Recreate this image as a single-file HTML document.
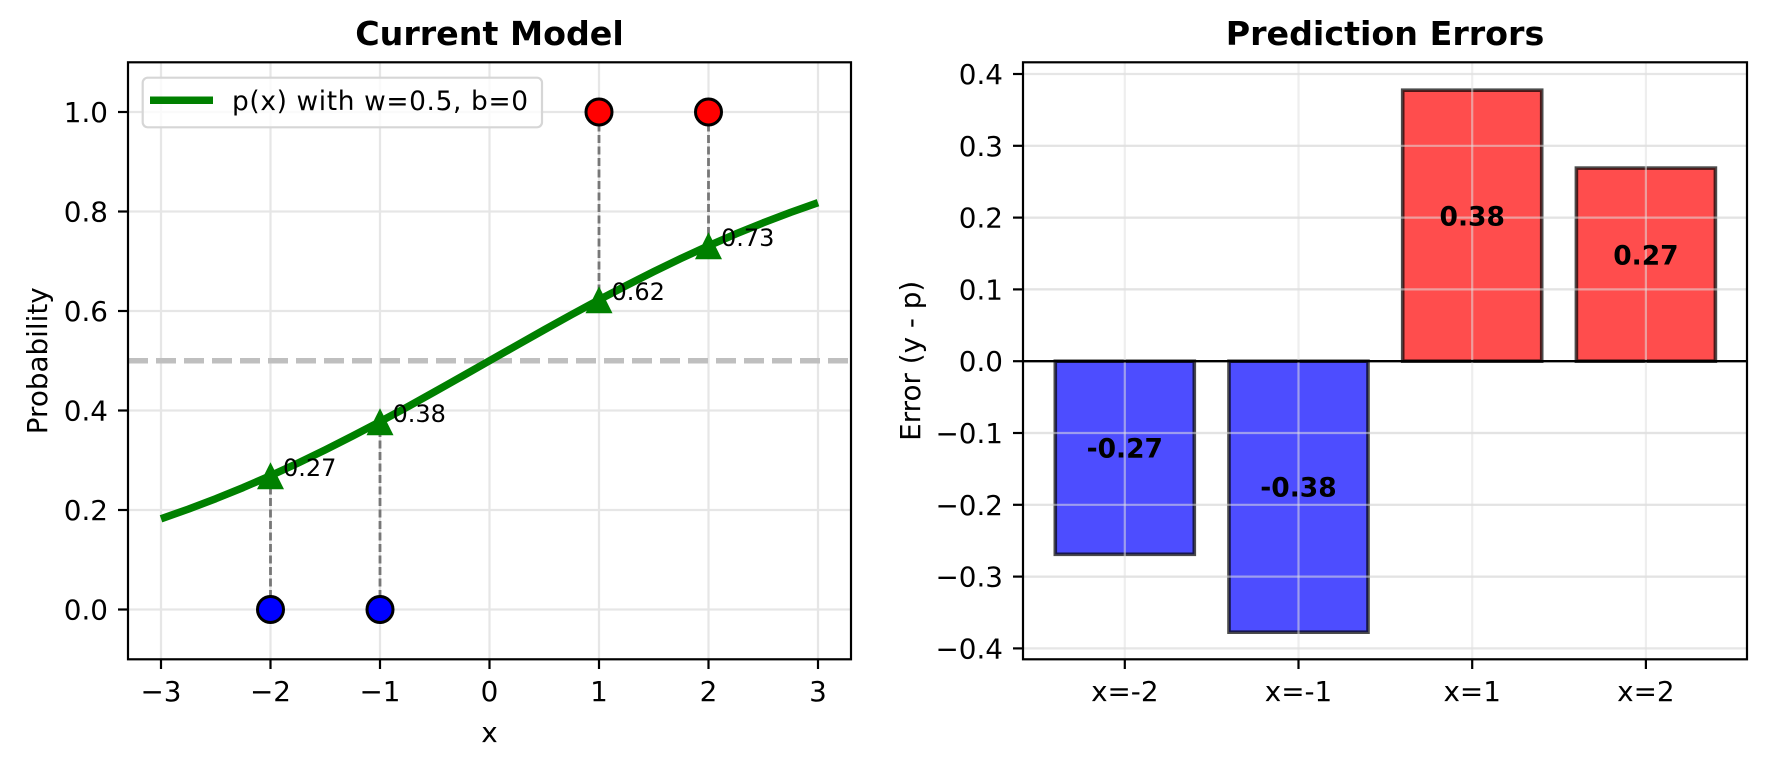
<!DOCTYPE html>
<html><head><meta charset="utf-8"><style>
html,body{margin:0;padding:0;background:#fff;}
svg{display:block;font-family:"DejaVu Sans","Liberation Sans",sans-serif;}
</style></head><body>
<svg width="1766" height="768" viewBox="0 0 1766 768" xmlns="http://www.w3.org/2000/svg">
<rect width="1766" height="768" fill="#fff"/>
<!-- LEFT AXES -->
<g stroke="#e6e6e6" stroke-width="2.2">
<line x1="161" y1="62.3" x2="161" y2="659.3"/><line x1="270.5" y1="62.3" x2="270.5" y2="659.3"/>
<line x1="380" y1="62.3" x2="380" y2="659.3"/><line x1="489.5" y1="62.3" x2="489.5" y2="659.3"/>
<line x1="599" y1="62.3" x2="599" y2="659.3"/><line x1="708.5" y1="62.3" x2="708.5" y2="659.3"/>
<line x1="818" y1="62.3" x2="818" y2="659.3"/>
<line x1="128" y1="609.5" x2="851" y2="609.5"/><line x1="128" y1="510" x2="851" y2="510"/>
<line x1="128" y1="410.5" x2="851" y2="410.5"/><line x1="128" y1="311" x2="851" y2="311"/>
<line x1="128" y1="211.5" x2="851" y2="211.5"/><line x1="128" y1="112" x2="851" y2="112"/>
</g>
<line x1="128" y1="360.75" x2="851" y2="360.75" stroke="#bfbfbf" stroke-width="5.5" stroke-dasharray="20,8"/>
<g stroke="#777" stroke-width="2.8" stroke-dasharray="8,3.5">
<line x1="270.5" y1="609.5" x2="270.5" y2="475.7"/><line x1="380" y1="609.5" x2="380" y2="421.7"/>
<line x1="599" y1="112" x2="599" y2="299.8"/><line x1="708.5" y1="112" x2="708.5" y2="245.8"/>
</g>
<polyline fill="none" stroke="#008000" stroke-width="7.5" stroke-linejoin="round" points="161,518.8 188.4,509.1 215.75,498.7 243.1,487.6 270.5,475.7 297.9,463.1 325.25,449.9 352.6,436 380,421.7 407.4,406.9 434.75,391.7 462.1,376.3 489.5,360.75 516.9,345.2 544.25,329.8 571.6,314.6 599,299.8 626.4,285.5 653.75,271.6 681.1,258.4 708.5,245.8 735.9,233.9 763.25,222.8 790.6,212.4 818,202.7"/>
<g fill="#008000">
<polygon points="270.5,462.2 257,489.2 284,489.2"/><polygon points="380,408.2 366.5,435.2 393.5,435.2"/>
<polygon points="599,286.3 585.5,313.3 612.5,313.3"/><polygon points="708.5,232.3 695,259.3 722,259.3"/>
</g>
<g font-size="24" fill="#000">
<text x="283" y="476">0.27</text><text x="392.5" y="422">0.38</text>
<text x="611.5" y="300">0.62</text><text x="721" y="246">0.73</text>
</g>
<g stroke="#000" stroke-width="3">
<circle cx="270.5" cy="609.5" r="13" fill="#0000ff"/><circle cx="380" cy="609.5" r="13" fill="#0000ff"/>
<circle cx="599" cy="112" r="13" fill="#ff0000"/><circle cx="708.5" cy="112" r="13" fill="#ff0000"/>
</g>
<rect x="142.7" y="77.7" width="399.3" height="49.6" rx="5" fill="#fff" fill-opacity="0.8" stroke="#d6d6d6" stroke-width="2.2"/>
<line x1="150" y1="100.3" x2="213" y2="100.3" stroke="#008000" stroke-width="7.5"/>
<text x="232" y="110" font-size="26.4" textLength="296">p(x) with w=0.5, b=0</text>
<rect x="128" y="62.3" width="723" height="597" fill="none" stroke="#000" stroke-width="2.2"/>
<g stroke="#000" stroke-width="2.2">
<line x1="161" y1="659.3" x2="161" y2="669"/><line x1="270.5" y1="659.3" x2="270.5" y2="669"/>
<line x1="380" y1="659.3" x2="380" y2="669"/><line x1="489.5" y1="659.3" x2="489.5" y2="669"/>
<line x1="599" y1="659.3" x2="599" y2="669"/><line x1="708.5" y1="659.3" x2="708.5" y2="669"/>
<line x1="818" y1="659.3" x2="818" y2="669"/>
<line x1="118" y1="609.5" x2="128" y2="609.5"/><line x1="118" y1="510" x2="128" y2="510"/>
<line x1="118" y1="410.5" x2="128" y2="410.5"/><line x1="118" y1="311" x2="128" y2="311"/>
<line x1="118" y1="211.5" x2="128" y2="211.5"/><line x1="118" y1="112" x2="128" y2="112"/>
</g>
<g font-size="27.8" text-anchor="middle">
<text x="161" y="701">−3</text><text x="270.5" y="701">−2</text><text x="380" y="701">−1</text>
<text x="489.5" y="701">0</text><text x="599" y="701">1</text><text x="708.5" y="701">2</text><text x="818" y="701">3</text>
<text x="489.5" y="742">x</text>
</g>
<g font-size="27.8" text-anchor="end">
<text x="108" y="619.5">0.0</text><text x="108" y="520">0.2</text><text x="108" y="420.5">0.4</text>
<text x="108" y="321">0.6</text><text x="108" y="221.5">0.8</text><text x="108" y="122">1.0</text>
</g>
<text transform="translate(47,360.8) rotate(-90)" font-size="27.8" text-anchor="middle">Probability</text>
<text x="489.5" y="45" font-size="33.3" font-weight="bold" text-anchor="middle">Current Model</text>

<!-- RIGHT AXES -->
<g stroke="#e6e6e6" stroke-width="2.2">
<line x1="1023" y1="74" x2="1747" y2="74"/><line x1="1023" y1="145.8" x2="1747" y2="145.8"/>
<line x1="1023" y1="217.6" x2="1747" y2="217.6"/><line x1="1023" y1="289.4" x2="1747" y2="289.4"/>
<line x1="1023" y1="433" x2="1747" y2="433"/><line x1="1023" y1="504.8" x2="1747" y2="504.8"/>
<line x1="1023" y1="576.6" x2="1747" y2="576.6"/><line x1="1023" y1="648.4" x2="1747" y2="648.4"/>
</g>
<g stroke="#000" stroke-opacity="0.7" stroke-width="3.6">
<rect x="1055.3" y="361.2" width="139" height="193.1" fill="#4d4dff"/>
<rect x="1229" y="361.2" width="139" height="271" fill="#4d4dff"/>
<rect x="1402.7" y="90.2" width="139" height="271" fill="#ff4d4d"/>
<rect x="1576.4" y="168.1" width="139" height="193.1" fill="#ff4d4d"/>
</g>
<g stroke="#e0e0e0" stroke-opacity="0.55" stroke-width="2.2">
<line x1="1124.8" y1="62.3" x2="1124.8" y2="659.3"/><line x1="1298.5" y1="62.3" x2="1298.5" y2="659.3"/>
<line x1="1472.2" y1="62.3" x2="1472.2" y2="659.3"/><line x1="1645.9" y1="62.3" x2="1645.9" y2="659.3"/>
<line x1="1023" y1="433" x2="1747" y2="433"/><line x1="1023" y1="504.8" x2="1747" y2="504.8"/>
<line x1="1023" y1="576.6" x2="1747" y2="576.6"/><line x1="1023" y1="289.4" x2="1747" y2="289.4"/>
<line x1="1023" y1="217.6" x2="1747" y2="217.6"/><line x1="1023" y1="145.8" x2="1747" y2="145.8"/>
</g>
<line x1="1023" y1="361.2" x2="1747" y2="361.2" stroke="#000" stroke-width="2.4"/>
<g font-size="26.5" font-weight="bold" text-anchor="middle">
<text x="1124.8" y="457.7">-0.27</text><text x="1298.5" y="496.7">-0.38</text>
<text x="1472.2" y="225.7">0.38</text><text x="1645.9" y="264.7">0.27</text>
</g>
<rect x="1023" y="62.3" width="724" height="597" fill="none" stroke="#000" stroke-width="2.2"/>
<g stroke="#000" stroke-width="2.2">
<line x1="1124.8" y1="659.3" x2="1124.8" y2="669"/><line x1="1298.5" y1="659.3" x2="1298.5" y2="669"/>
<line x1="1472.2" y1="659.3" x2="1472.2" y2="669"/><line x1="1645.9" y1="659.3" x2="1645.9" y2="669"/>
<line x1="1013" y1="74" x2="1023" y2="74"/><line x1="1013" y1="145.8" x2="1023" y2="145.8"/>
<line x1="1013" y1="217.6" x2="1023" y2="217.6"/><line x1="1013" y1="289.4" x2="1023" y2="289.4"/>
<line x1="1013" y1="361.2" x2="1023" y2="361.2"/><line x1="1013" y1="433" x2="1023" y2="433"/>
<line x1="1013" y1="504.8" x2="1023" y2="504.8"/><line x1="1013" y1="576.6" x2="1023" y2="576.6"/>
<line x1="1013" y1="648.4" x2="1023" y2="648.4"/>
</g>
<g font-size="27.8" text-anchor="end">
<text x="1003" y="84">0.4</text><text x="1003" y="155.8">0.3</text><text x="1003" y="227.6">0.2</text>
<text x="1003" y="299.4">0.1</text><text x="1003" y="371.2">0.0</text><text x="1003" y="443">−0.1</text>
<text x="1003" y="514.8">−0.2</text><text x="1003" y="586.6">−0.3</text><text x="1003" y="658.4">−0.4</text>
</g>
<g font-size="27.8" text-anchor="middle">
<text x="1124.8" y="701">x=-2</text><text x="1298.5" y="701">x=-1</text>
<text x="1472.2" y="701">x=1</text><text x="1645.9" y="701">x=2</text>
</g>
<text transform="translate(920,360.8) rotate(-90)" font-size="27.8" text-anchor="middle">Error (y - p)</text>
<text x="1385" y="45" font-size="33.3" font-weight="bold" text-anchor="middle">Prediction Errors</text>
</svg>
</body></html>
